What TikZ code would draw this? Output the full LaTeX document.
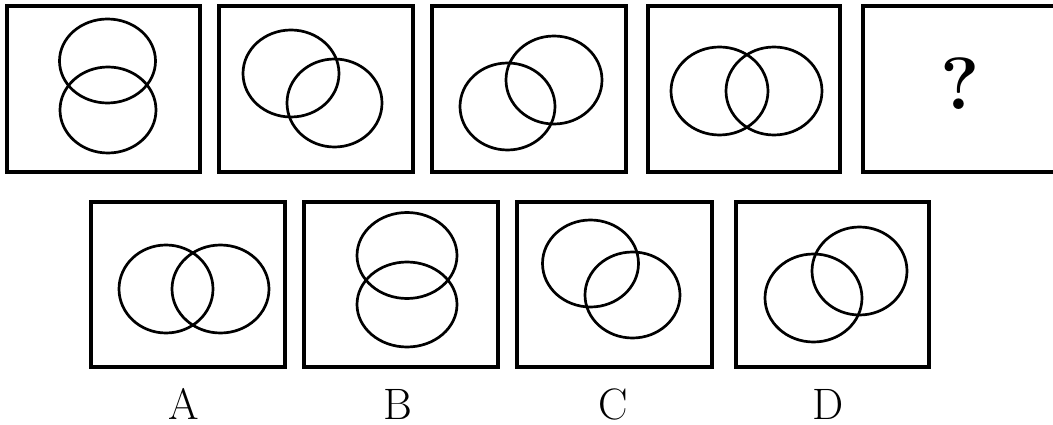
\documentclass[tikz,border=0pt]{standalone}
\usepackage{tikz}
\usetikzlibrary{positioning}
\tikzset{
  frame/.style={line width=3.2pt},
  ring/.style={line width=2.7pt},
  letter/.style={inner sep=0pt, font=\fontsize{44}{44}\selectfont},
  qstyle/.style={inner sep=0pt, font=\fontsize{74}{74}\selectfont\bfseries}
}

\begin{document}
\begin{tikzpicture}[x=1pt,y=-1pt]
  \useasboundingbox (0,0) rectangle (1053,425);
  \clip (0,0) rectangle (1053,425);
  % top row
  \draw[frame] (7,6) rectangle (200,172);
  \draw[frame] (219,6) rectangle (413,172);
  \draw[frame] (432,6) rectangle (626,172);
  \draw[frame] (648,6) rectangle (840,172);
  \draw[frame] (863,6) rectangle (1062,172);
  \draw[ring] (107.5,61) ellipse [x radius=48pt, y radius=42pt];
  \draw[ring] (108,110) ellipse [x radius=48pt, y radius=43pt];
  \draw[ring] (291,73.5) ellipse [x radius=48pt, y radius=43.5pt];
  \draw[ring] (334.5,103) ellipse [x radius=47.5pt, y radius=44pt];
  \draw[ring] (507.5,106.5) ellipse [x radius=47.5pt, y radius=43.5pt];
  \draw[ring] (554,80) ellipse [x radius=48pt, y radius=44pt];
  \draw[ring] (719.5,91) ellipse [x radius=48.5pt, y radius=44pt];
  \draw[ring] (774,91) ellipse [x radius=48pt, y radius=44pt];
  \node[qstyle] (qmark) at (960,84) {?};
  % answer row
  \draw[frame] (91,202) rectangle (285,367);
  \draw[frame] (304,202) rectangle (498,367);
  \draw[frame] (517,202) rectangle (712,367);
  \draw[frame] (736,202) rectangle (929,367);
  \draw[ring] (166,289) ellipse [x radius=47pt, y radius=44pt];
  \draw[ring] (220.5,289) ellipse [x radius=48.5pt, y radius=44pt];
  \draw[ring] (407,255.5) ellipse [x radius=50pt, y radius=43pt];
  \draw[ring] (407,304.5) ellipse [x radius=50pt, y radius=42.5pt];
  \draw[ring] (590.5,263.5) ellipse [x radius=48pt, y radius=43.5pt];
  \draw[ring] (632.5,295) ellipse [x radius=47.5pt, y radius=43pt];
  \draw[ring] (813.5,298) ellipse [x radius=48.5pt, y radius=44pt];
  \draw[ring] (859.5,271) ellipse [x radius=47.5pt, y radius=44pt];
  \node[letter] (optA) at (184,404) {A};
  \node[letter] (optB) at (398,404) {B};
  \node[letter] (optC) at (613,404) {C};
  \node[letter] (optD) at (828,404) {D};
\end{tikzpicture}
\end{document}
